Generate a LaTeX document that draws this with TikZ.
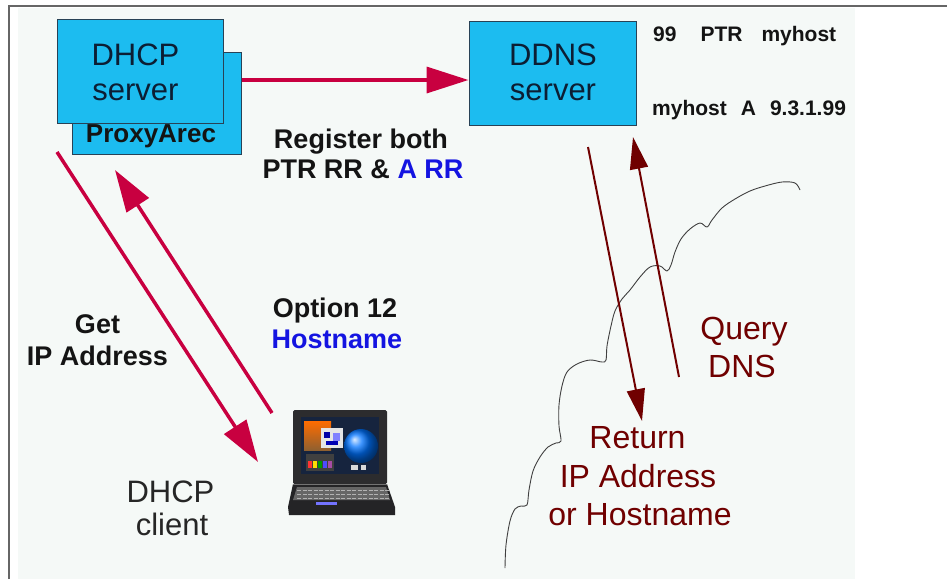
\documentclass[tikz,border=0pt]{standalone}
\usepackage{fontspec}
\setmainfont{Liberation Sans}
\usetikzlibrary{arrows.meta}

\definecolor{boxblue}{RGB}{28,188,240}
\definecolor{boxedge}{RGB}{40,66,86}
\definecolor{crim}{RGB}{200,0,64}
\definecolor{maroon}{RGB}{112,0,0}
\definecolor{navytext}{RGB}{12,30,52}
\definecolor{pagebg}{RGB}{245,249,247}
\definecolor{linkblue}{RGB}{20,20,225}
\definecolor{lapdark}{RGB}{44,44,46}
\definecolor{lapbody}{RGB}{36,36,38}
\definecolor{screen}{RGB}{22,36,62}

\begin{document}
\begin{tikzpicture}[x=1pt,y=-1pt,
  box/.style={draw=boxedge, line width=1pt, fill=boxblue, inner sep=0pt},
  boxlabel/.style={font=\fontsize{31}{34}\selectfont, text=navytext, anchor=base},
  lbl/.style={font=\bfseries\fontsize{27}{30}\selectfont, text=black!92, anchor=base},
  rec/.style={font=\bfseries\fontsize{21}{24}\selectfont, text=black!92, anchor=base west, inner sep=0pt},
  dnslbl/.style={font=\fontsize{32}{38}\selectfont, text=maroon, anchor=base},
  plainlbl/.style={font=\fontsize{31}{34}\selectfont, text=black!85, anchor=base},
  crimarrow/.style={draw=crim, line width=3.5pt, -{Triangle[length=42pt,width=26pt]}},
  dnsarrow/.style={draw=maroon, line width=2pt, -{Triangle[length=32pt,width=18pt]}},
  cloudline/.style={draw=black!75, line width=0.9pt, line join=round}]

\useasboundingbox (0,0) rectangle (947,579);

% page and frame
\fill[white] (0,0) rectangle (947,579);
\fill[pagebg] (18,8) rectangle (855,579);
\draw[black!60, line width=1.5pt] (9,579) -- (9,6) -- (947,6);

% servers
\node[box, minimum width=169pt, minimum height=102pt] (proxy) at (156.5,103) {};
\node[box, minimum width=166pt, minimum height=104pt] (dhcp) at (140,71) {};
\node[box, minimum width=167pt, minimum height=104pt] (ddns) at (552.5,73) {};

\node[boxlabel] (dhcpA) at (135.5,65.7) {DHCP};
\node[boxlabel] (dhcpB) at (135.5,100) {server};
\node[boxlabel] (ddnsA) at (553,65) {DDNS};
\node[boxlabel] (ddnsB) at (553,100) {server};
\node[font=\bfseries\fontsize{26}{28}\selectfont, text=black!92, anchor=base] (proxyA) at (151,142.7) {ProxyArec};

% resource records
\node[rec] (ptr) at (653,41) {99\hspace{24pt}PTR\hspace{19pt}myhost};
\node[rec] (arec) at (652,115) {myhost\hspace{14pt}A\hspace{14pt}9.3.1.99};

% labels
\node[lbl] (reg1) at (361,148) {Register both};
\node[lbl] (reg2) at (363,178) {PTR RR \& {\color{linkblue}A RR}};
\node[lbl] (get1) at (97.5,333) {Get};
\node[lbl] (get2) at (97.5,365) {IP Address};
\node[lbl] (opt1) at (335,317) {Option 12};
\node[lbl, text=linkblue] (opt2) at (337,348) {Hostname};
\node[plainlbl] (cl1) at (170.5,502) {DHCP};
\node[plainlbl] (cl2) at (172,535) {client};
\node[dnslbl] (q1) at (744,339) {Query};
\node[dnslbl] (q2) at (742,377) {DNS};
\node[dnslbl] (r1) at (637.5,448) {Return};
\node[dnslbl] (r2) at (638,487) {IP Address};
\node[dnslbl] (r3) at (640,525) {or Hostname};

% cloud edge
\draw[cloudline] plot[smooth, tension=0.55] coordinates {
  (505,568) (506,545) (510,521) (515,509) (521,506) (527,505)
  (529,490) (533,471) (540,457) (548,447) (556,443) (561,441)
  (559,426) (559,405) (562,386) (567,372) (577,364) (590,360) (602,362) (606,360)
  (607,346) (611,326) (615,311) (622,299) (630,290) (640,277) (650,267) (660,266) (667,271)
  (671,265) (675,252) (681,239) (690,229) (700,223) (707,227)
  (712,220) (722,208) (735,199) (750,191) (765,186) (782,182) (795,183) (800,190)};

% laptop
\node[minimum width=109pt, minimum height=105pt, inner sep=0pt] (client) at (341.5,462.5) {};
\fill[lapdark, rounded corners=1.5pt] (293,410) rectangle (387,484);
\fill[screen] (301,417) rectangle (379,474);
\shade[top color=orange!85!red, bottom color=brown!75!black] (304,421) rectangle (331,450);
\fill[black!10] (321,428) rectangle (343,448);
\fill[blue!65!black] (324,432) rectangle (330,438);
\fill[blue!50] (333,433) rectangle (340,441);
\fill[blue!70!black] (326,441) rectangle (338,445);
\shade[ball color=blue!55!cyan] (361,446) circle (17);
\fill[black!75] (306,454) rectangle (334,471);
\fill[red!80] (308,461) rectangle (312,468);
\fill[yellow!80!orange] (313,461) rectangle (317,468);
\fill[green!60!black] (318,461) rectangle (322,468);
\fill[blue!70] (323,461) rectangle (327,468);
\fill[violet!70] (328,461) rectangle (332,468);
\fill[black!15] (351,465) rectangle (358,470);
\fill[black!15] (361,465) rectangle (366,470);
\fill[lapbody] (293,484) -- (387,484) -- (395,507) -- (395,515) -- (289,515) -- (288,507) -- cycle;
\fill[black!60] (297,487) -- (386,487) -- (390,500) -- (293,500) -- cycle;
\foreach \r in {490,494,498}
  \draw[black!30, line width=1pt, dash pattern=on 4pt off 1.5pt] (297,\r) -- (389,\r);
\fill[blue!55] (316,502) rectangle (337,505);
\draw[black!55, line width=0.6pt] (293,484) -- (387,484);

% connectors
\coordinate (regy) at ([yshift=-7pt]ddns.west);
\draw[crimarrow] (regy -| proxy.east) -- (regy);

\coordinate (getS) at (57,152);
\coordinate (getE) at (258,462);
\coordinate (optS) at (272,413);
\coordinate (optE) at (115,170);
\draw[crimarrow] (getS) -- (getE);
\draw[crimarrow] (optS) -- (optE);

\coordinate (rS) at (588,147);
\coordinate (rE) at (642,421);
\coordinate (qS) at (679,377);
\coordinate (qE) at (633,137);
\draw[dnsarrow] (rS) -- (rE);
\draw[dnsarrow] (qS) -- (qE);
\end{tikzpicture}
\end{document}
